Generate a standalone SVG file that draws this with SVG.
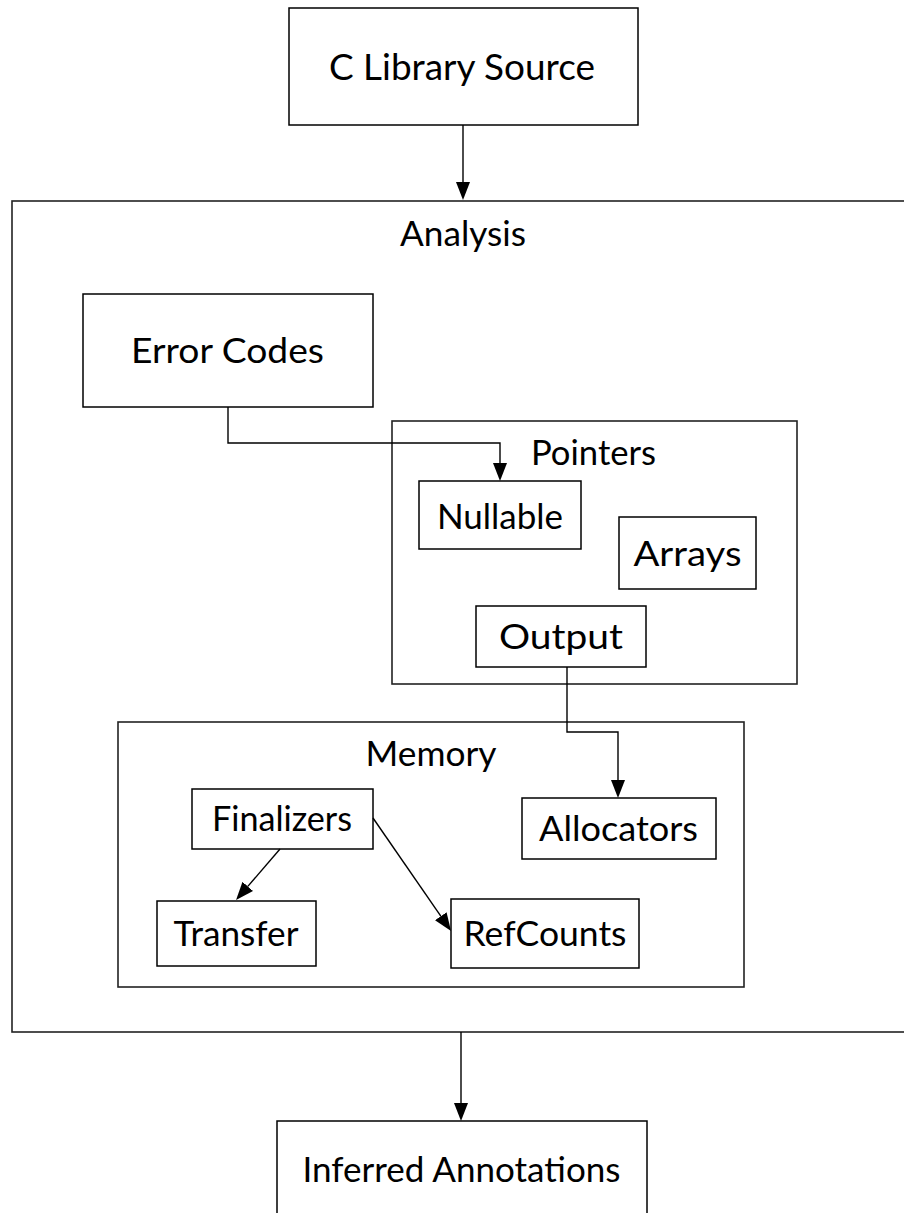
<svg xmlns="http://www.w3.org/2000/svg" width="904" height="1213" viewBox="0 0 904 1213">
<style>
  .box { fill: #ffffff; stroke: #000000; stroke-width: 1.5; }
  .cluster { fill: none; stroke: #222222; stroke-width: 1.6; }
  .edge { fill: none; stroke: #000000; stroke-width: 1.4; }
  .lbl { font-family: "Lato", "Open Sans", "Liberation Sans", sans-serif; font-size: 34px; fill: #000000; text-anchor: middle; }
  .big { font-size: 36px; }
</style>
<defs>
  <marker id="arrow" markerUnits="userSpaceOnUse" markerWidth="20" markerHeight="16" refX="0" refY="7" orient="auto" viewBox="0 0 20 16">
    <path d="M0,0 L18,7 L0,14 z" fill="#000000"/>
  </marker>
</defs>
<rect width="904" height="1213" fill="#ffffff"/>

<g id="cluster-analysis">
  <rect class="cluster" x="12" y="201" width="900" height="831"/>
  <text class="lbl" x="463" y="246" textLength="126" lengthAdjust="spacingAndGlyphs">Analysis</text>
</g>
<g id="cluster-pointers">
  <rect class="cluster" x="392" y="421" width="405" height="263"/>
  <text class="lbl" x="593.5" y="465" textLength="125" lengthAdjust="spacingAndGlyphs">Pointers</text>
</g>
<g id="cluster-memory">
  <rect class="cluster" x="118" y="722" width="626" height="265"/>
  <text class="lbl" x="431" y="766" textLength="131" lengthAdjust="spacingAndGlyphs">Memory</text>
</g>

<g id="node-source">
  <rect class="box" x="289" y="8" width="349" height="117"/>
  <text class="lbl big" x="462" y="80" textLength="266" lengthAdjust="spacingAndGlyphs">C Library Source</text>
</g>
<g id="node-errorcodes">
  <rect class="box" x="83" y="294" width="290" height="113"/>
  <text class="lbl" x="227.5" y="363" textLength="193" lengthAdjust="spacingAndGlyphs">Error Codes</text>
</g>
<g id="node-nullable">
  <rect class="box" x="419" y="481" width="162" height="68"/>
  <text class="lbl" x="500" y="529" textLength="126" lengthAdjust="spacingAndGlyphs">Nullable</text>
</g>
<g id="node-arrays">
  <rect class="box" x="619" y="517" width="137" height="72"/>
  <text class="lbl" x="687.5" y="566" textLength="108" lengthAdjust="spacingAndGlyphs">Arrays</text>
</g>
<g id="node-output">
  <rect class="box" x="476" y="606" width="170" height="61"/>
  <text class="lbl" x="561" y="649" textLength="124" lengthAdjust="spacingAndGlyphs">Output</text>
</g>
<g id="node-finalizers">
  <rect class="box" x="192" y="789" width="181" height="60"/>
  <text class="lbl" x="282" y="831" textLength="140" lengthAdjust="spacingAndGlyphs">Finalizers</text>
</g>
<g id="node-allocators">
  <rect class="box" x="522" y="798" width="194" height="61"/>
  <text class="lbl" x="618.5" y="841" textLength="159" lengthAdjust="spacingAndGlyphs">Allocators</text>
</g>
<g id="node-transfer">
  <rect class="box" x="157" y="901" width="159" height="65"/>
  <text class="lbl" x="236" y="946" textLength="125" lengthAdjust="spacingAndGlyphs">Transfer</text>
</g>
<g id="node-refcounts">
  <rect class="box" x="451" y="899" width="188" height="69"/>
  <text class="lbl" x="545" y="946" textLength="163" lengthAdjust="spacingAndGlyphs">RefCounts</text>
</g>
<g id="node-inferred">
  <rect class="box" x="277" y="1121" width="370" height="110"/>
  <text class="lbl" x="461.5" y="1182" textLength="318" lengthAdjust="spacingAndGlyphs">Inferred Annotations</text>
</g>

<g id="connectors">
  <path class="edge" d="M463,125 V182" marker-end="url(#arrow)"/>
  <path class="edge" d="M228,407 V443 H500 V463" marker-end="url(#arrow)"/>
  <path class="edge" d="M567,667 V732 H618 V780" marker-end="url(#arrow)"/>
  <path class="edge" d="M280,849 L247.8,886.4" marker-end="url(#arrow)"/>
  <path class="edge" d="M373,818 L440.8,916.2" marker-end="url(#arrow)"/>
  <path class="edge" d="M461,1032 V1103" marker-end="url(#arrow)"/>
</g>
</svg>
